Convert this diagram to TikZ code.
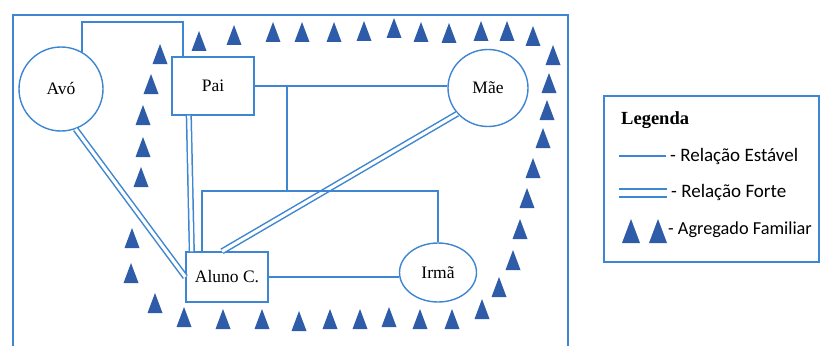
\documentclass[tikz,border=0pt]{standalone}
\usepackage{fontspec}
\usetikzlibrary{shapes.geometric}
\setmainfont{Liberation Serif}
\newfontfamily\calfont{Carlito}
\definecolor{lblue}{RGB}{62,134,210}
\definecolor{tblue}{RGB}{47,92,168}
\begin{document}
\begin{tikzpicture}[x=1pt,y=-1pt,
  ln/.style={draw=lblue, line width=1.8pt},
  strongrel/.style={draw=lblue, line width=1.5pt, double=white, double distance=3.2pt},
  person/.style={draw=lblue, line width=1.4pt, fill=white, inner sep=0pt,
    font=\fontsize{17.5}{20}\selectfont},
  agr/.pic={\fill[tblue] (-7.5,10) -- (0,-10) -- (7.5,10) -- cycle;},
  bigagr/.pic={\fill[tblue] (-9,12) -- (0,-12) -- (9,12) -- cycle;},
  legtext/.style={anchor=west, inner sep=0pt, font=\calfont\fontsize{19}{22}\selectfont}
]
\useasboundingbox (0,0) rectangle (821,345);
\clip (0,0) rectangle (821,345);

% outer frame
\draw[lblue, line width=1.8pt] (13,350) -- (13,15) -- (568,15) -- (568,350);

% people
\node[person, circle, minimum size=84pt] (avo) at (61,89) {Avó};
\node[person, rectangle, minimum width=82pt, minimum height=58pt] (pai) at (213,86) {Pai};
\node[person, ellipse, minimum width=80pt, minimum height=77pt] (mae) at (488,88) {Mãe};
\node[person, rectangle, minimum width=82pt, minimum height=50pt] (aluno) at (227,277) {Aluno C.};
\node[person, ellipse, minimum width=77pt, minimum height=59pt] (irma) at (438,272.5) {Irmã};

\coordinate (ap) at (183,22);
\coordinate (jt) at (287,191);

% strong relations
\draw[strongrel] (avo.-70) -- (aluno.west);
\draw[strongrel] ([xshift=17.5pt]pai.south west) -- ([xshift=6.5pt]aluno.north west);
\draw[strongrel] (mae.-140) -- ([xshift=-5pt]aluno.north);

% stable relations
\draw[ln] (avo.60) |- (ap) -- (ap |- pai.north);
\draw[ln] (pai.east) -- (pai.east -| mae.west);
\draw[ln] (jt |- pai.east) -- (jt);
\draw[ln] ([xshift=17pt]aluno.north west) |- (irma.north |- jt) -- (irma.north);
\draw[ln] (aluno.east) -- (aluno.east -| irma.west);

% family aggregate triangles
\foreach \p in {(160,54),(151,84),(143,115),(143,147),(141,177),(132,238),(131,273),(155,303),
  (199,41),(234,35),(273,32),(302,32),(334,32),(364,31),(394,28),(421,32),(449,33),(481,31),(507,31),(533,36),
  (553,55),(549,83),(547,110),(543,138),(533,168),(527,198),(520,229),(513,260),(499,287),(482,309),
  (184,317),(223,319),(262,319),(299,321),(330,319),(360,319),(389,317),(420,319),(452,319)}
  \pic at \p {agr};

% legend
\draw[lblue, line width=1.6pt] (604,96) rectangle (819,262);
\node[anchor=base west, inner sep=0pt, font=\bfseries\fontsize{18.5}{21}\selectfont] (leg) at (621,124) {Legenda};
\draw[lblue, line width=2pt] (619,156) -- (666,156);
\node[legtext] (l1) at (670,156) {- Relação Estável};
\draw[lblue, line width=2pt] (619,189) -- (667,189);
\draw[lblue, line width=2pt] (619,197) -- (667,197);
\node[legtext] (l2) at (671,192) {- Relação Forte};
\pic at (631,231) {bigagr};
\pic at (658,231) {bigagr};
\node[legtext, font=\calfont\fontsize{18.3}{21}\selectfont] (l3) at (668,230) {- Agregado Familiar};
\end{tikzpicture}
\end{document}
